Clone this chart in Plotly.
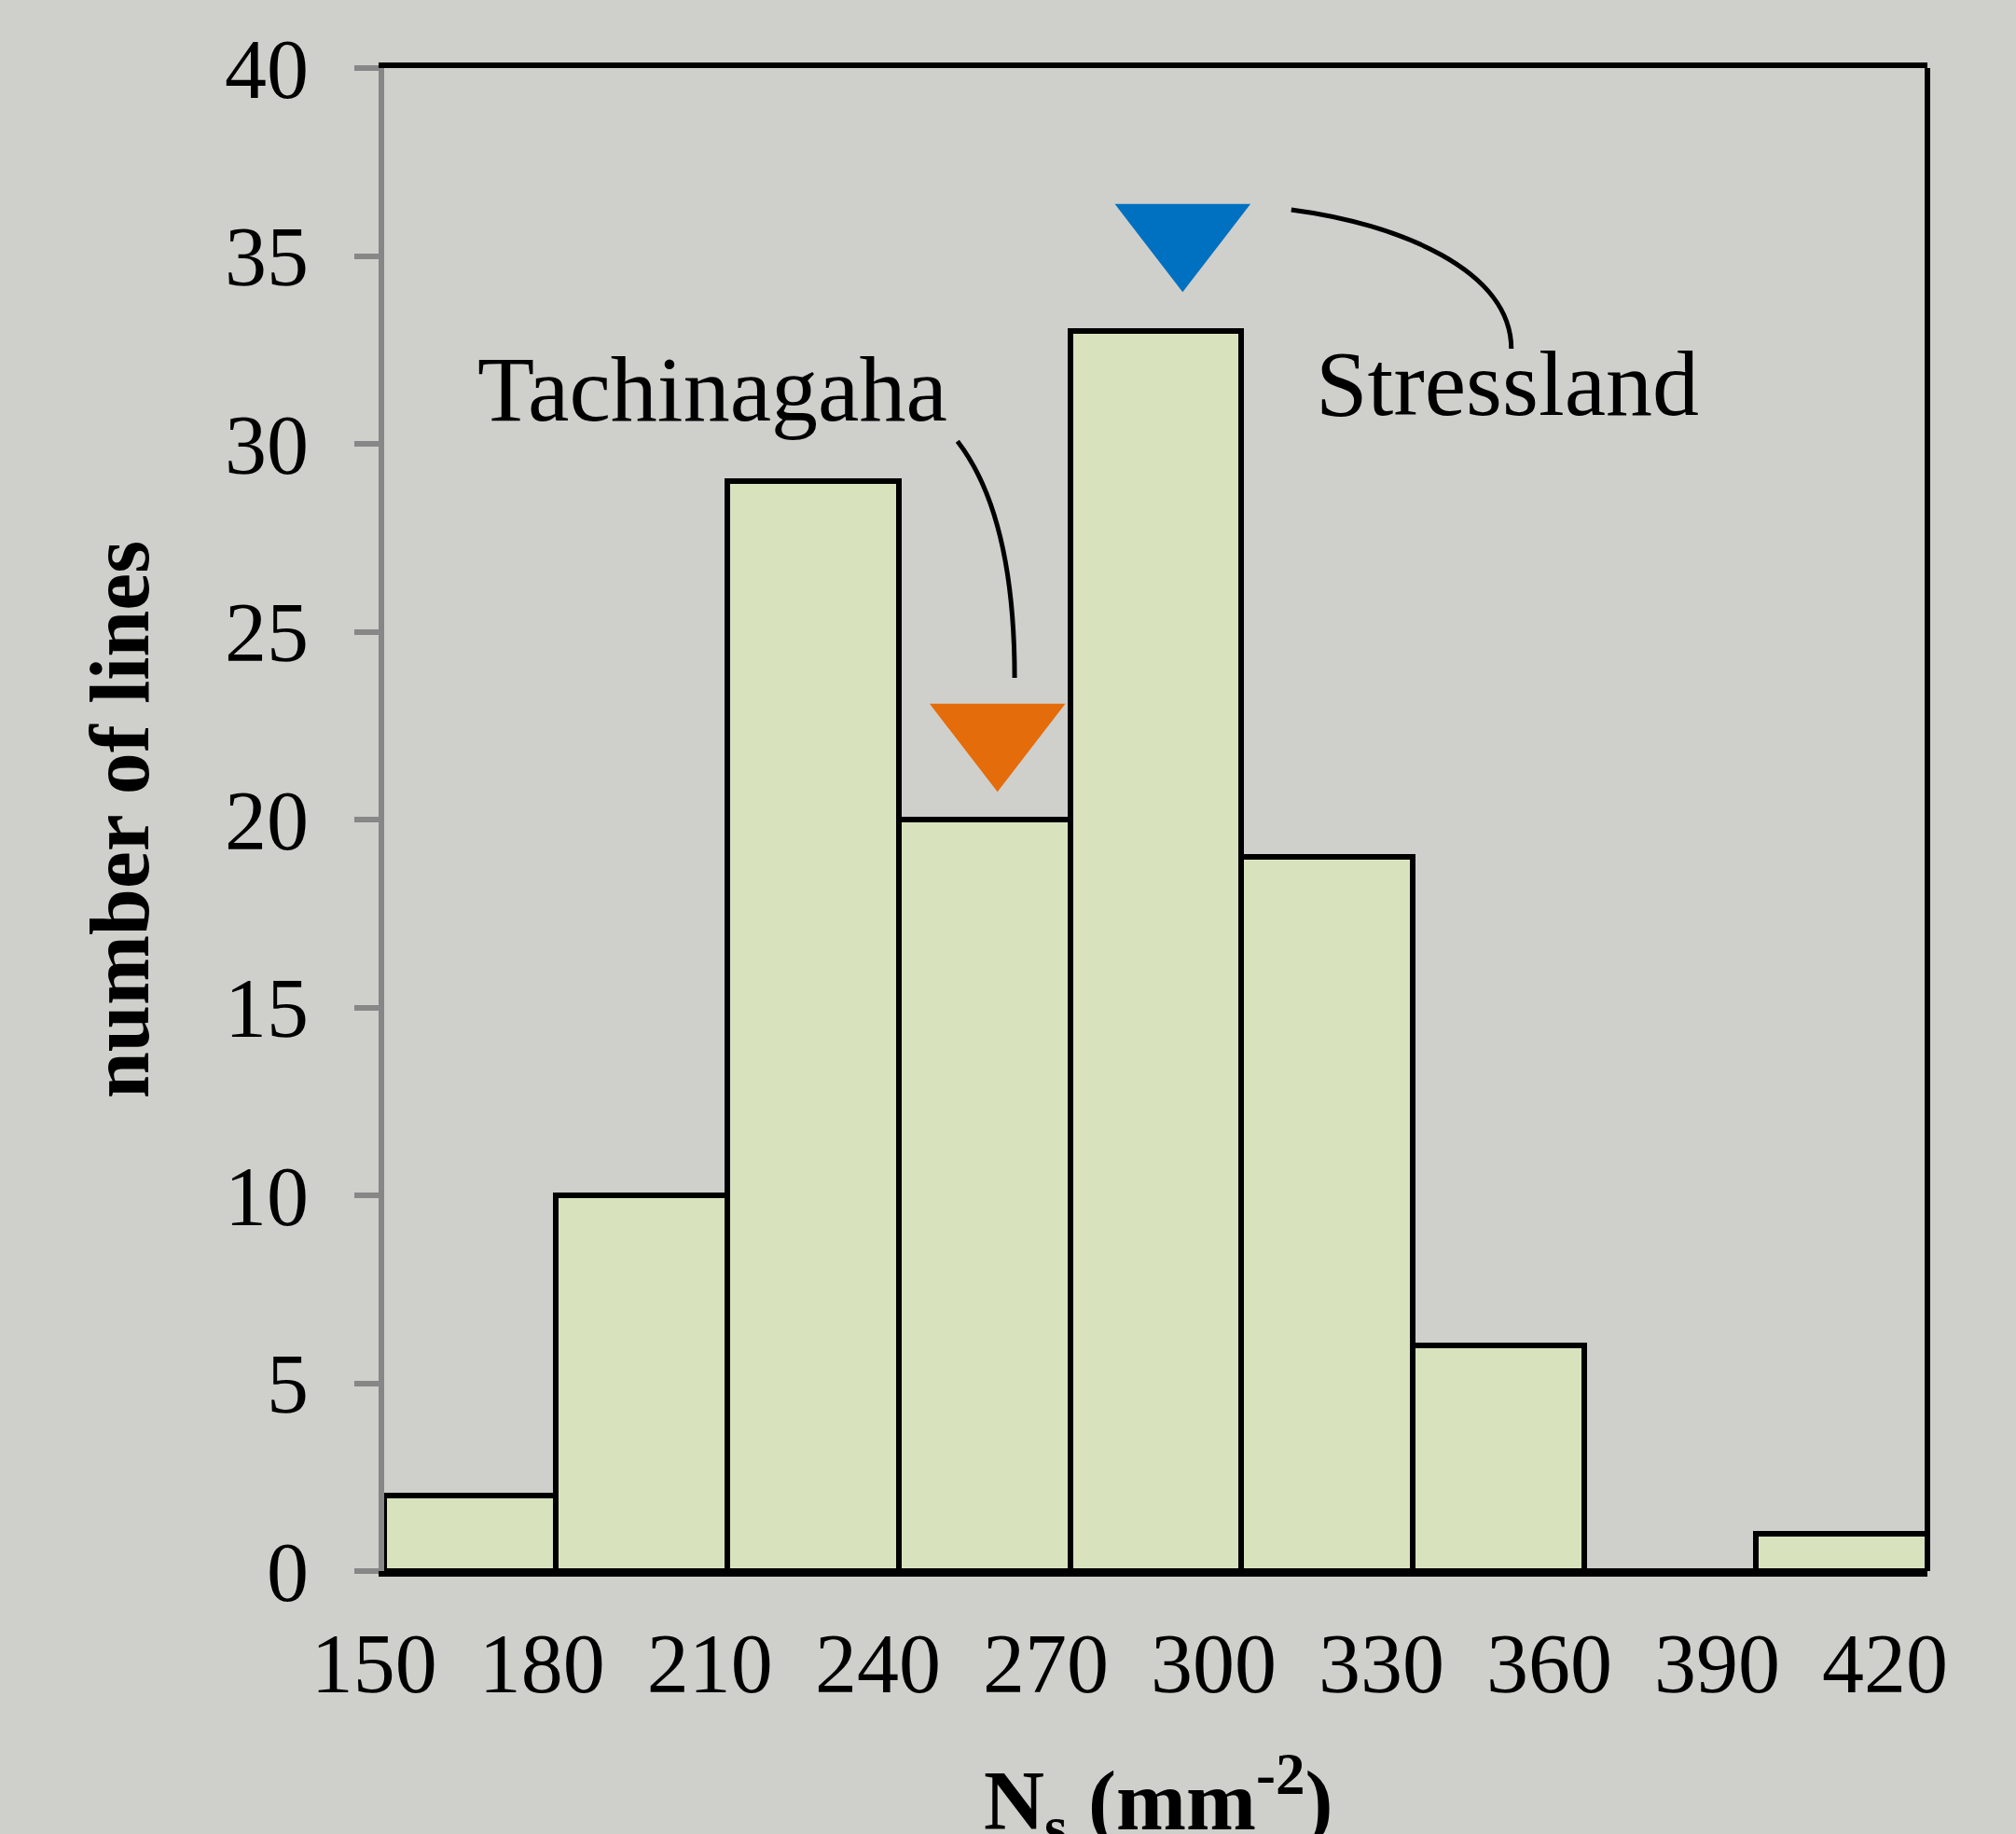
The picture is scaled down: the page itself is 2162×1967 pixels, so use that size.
import plotly.graph_objects as go

# ---- data ----
bin_edges = [150, 180, 210, 240, 270, 300, 330, 360, 390, 420]
counts = [2, 10, 29, 20, 33, 19, 6, 0, 1]
y_ticks = [0, 5, 10, 15, 20, 25, 30, 35, 40]

site_names = ["Tachinagaha", "Stressland"]
site_ns = [257.3, 289.7]          # N_s of each site (marker x)
site_marker_y = [22.3, 35.6]      # marker height in count units
site_colors = ["#E46C0A", "#0070C0"]
label_xy = [(207.5, 31.45), (346.5, 31.6)]

FONT = "Liberation Serif"
BG = "#cfd0cc"

centers = [(a + b) / 2 for a, b in zip(bin_edges[:-1], bin_edges[1:])]
widths = [b - a for a, b in zip(bin_edges[:-1], bin_edges[1:])]

W, H = 2162, 1967
ML, MR, MT, MB = 400, 95, 73, 282
pw = W - ML - MR
main_dom = [(412 - ML) / pw, 1.0]
lab_dom = [(401.3 - ML) / pw, (2021.6 - ML) / pw]

fig = go.Figure()
# helper trace for the tick-label axis (drawn first, underneath)
fig.add_trace(go.Scatter(x=[bin_edges[0], bin_edges[-1]], y=[None, None], xaxis="x2",
                         mode="markers", showlegend=False, hoverinfo="skip"))
fig.add_trace(go.Bar(
    x=centers, y=counts, width=widths,
    marker=dict(color="#d8e3be", line=dict(color="black", width=6)),
    hoverinfo="skip", showlegend=False,
))
for name, nx, ny, col in zip(site_names, site_ns, site_marker_y, site_colors):
    fig.add_trace(go.Scatter(
        x=[nx], y=[ny], mode="markers", name=name,
        marker=dict(symbol="triangle-down", size=126, color=col, line=dict(width=0)),
        showlegend=False, cliponaxis=False,
    ))

for name, (tx, ty) in zip(site_names, label_xy):
    fig.add_annotation(x=tx, y=ty, text=name, showarrow=False,
                       font=dict(family=FONT, size=100, color="black"))

# x-axis title
fig.add_annotation(xref="paper", yref="paper", x=0.505, y=-0.153, yanchor="middle",
                   text="<b>N<sub>s</sub> (mm<sup>-2</sup>)</b>", showarrow=False,
                   font=dict(family=FONT, size=90, color="black"))

# leader curves (data coordinates)
p1 = [(250.3, 30.07), (260.3, 28.1), (260.3, 23.77)]
p2 = [(308.7, 36.23), (327.5, 35.86), (347.2, 34.62), (347.2, 32.53)]
path1 = "M {},{} Q {},{} {},{}".format(*[v for pt in p1 for v in pt])
path2 = "M {},{} C {},{} {},{} {},{}".format(*[v for pt in p2 for v in pt])
for pth in (path1, path2):
    fig.add_shape(type="path", path=pth, xref="x", yref="y",
                  line=dict(color="black", width=5))
# right frame line
fig.add_shape(type="line", xref="x domain", yref="y domain", x0=1, x1=1, y0=0, y1=1,
              line=dict(color="black", width=6))

fig.update_layout(
    width=W, height=H,
    margin=dict(l=ML, r=MR, t=MT, b=MB),
    paper_bgcolor=BG, plot_bgcolor="rgba(0,0,0,0)",
    bargap=0,
    font=dict(family=FONT, color="black", size=90),
    xaxis=dict(domain=main_dom, anchor="y", range=[bin_edges[0], bin_edges[-1]], showgrid=False,
               zeroline=False, showline=True, linecolor="black", linewidth=6,
               mirror=True, ticks="", showticklabels=False, automargin=False),
    xaxis2=dict(domain=lab_dom, anchor="y", range=[bin_edges[0], bin_edges[-1]],
                tickvals=bin_edges, ticktext=[str(v) for v in bin_edges],
                showgrid=False, zeroline=False, showline=False, ticks="",
                ticklabelstandoff=39, tickfont=dict(family=FONT, size=90),
                automargin=False),
    yaxis=dict(anchor="x", range=[0, 40], tickvals=y_ticks, showgrid=False, zeroline=False,
               showline=True, linecolor="#878787", linewidth=6,
               ticks="outside", ticklen=26, tickwidth=6, tickcolor="#878787",
               ticklabelstandoff=31, tickfont=dict(family=FONT, size=90),
               title=dict(text="<b>number of lines</b>", standoff=54,
                          font=dict(family=FONT, size=90)),
               automargin=False),
)

fig.write_html("out.html")
